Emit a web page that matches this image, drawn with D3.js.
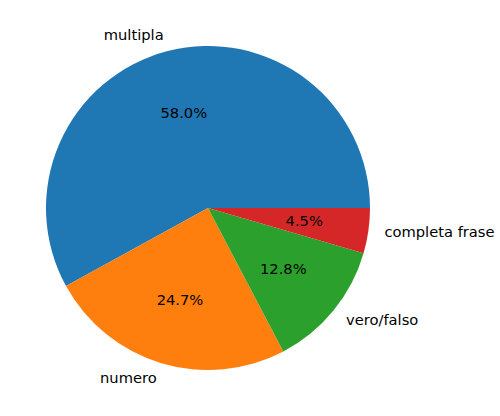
<!DOCTYPE html>
<html>
<head>
<meta charset="utf-8">
<script src="https://cdn.jsdelivr.net/npm/d3@7"></script>
<style>
  body { margin: 0; background: #fff; }
  svg { display: block; }
</style>
</head>
<body>
<div id="chart"></div>
<script>
var labels = ["multipla", "numero", "vero/falso", "completa frase"];
var values = [58.0, 24.7, 12.8, 4.5];
var colors = ["#1f77b4", "#ff7f0e", "#2ca02c", "#d62728"];

const width = 500, height = 416;
const cx = 208, cy = 208, r = 162;

var color = d3.scaleOrdinal().domain(labels).range(colors);

var svg = d3.select("#chart").append("svg")
    .attr("width", width)
    .attr("height", height);

// like matplotlib: start at 3 o'clock, go counterclockwise
var pie = d3.pie()
    .sort(null)
    .startAngle(Math.PI / 2)
    .endAngle(Math.PI / 2 - 2 * Math.PI);

var data = labels.map(function(d, i) { return {name: d, value: values[i]}; });
var arcs = pie.value(function(d) { return d.value; })(data);

var arc = d3.arc().innerRadius(0).outerRadius(r);

var g = svg.append("g").attr("transform", "translate(" + cx + "," + cy + ")");

g.selectAll("path")
    .data(arcs)
    .enter()
    .append("path")
    .attr("d", arc)
    .attr("fill", function(d) { return color(d.data.name); });

function mid(d) { return (d.startAngle + d.endAngle) / 2; }

// outside labels
g.selectAll("text.lbl")
    .data(arcs)
    .enter()
    .append("text")
    .attr("class", "lbl")
    .attr("x", function(d) { return 1.1 * r * Math.sin(mid(d)); })
    .attr("y", function(d) { return -1.1 * r * Math.cos(mid(d)); })
    .attr("dy", "0.28em")
    .attr("text-anchor", function(d) { return Math.sin(mid(d)) > 0 ? "start" : "end"; })
    .style("font-family", "DejaVu Sans, sans-serif")
    .style("font-size", "14.7px")
    .text(function(d) { return d.data.name; });

// percentages inside
var total = d3.sum(values);
g.selectAll("text.pct")
    .data(arcs)
    .enter()
    .append("text")
    .attr("class", "pct")
    .attr("x", function(d) { return 0.6 * r * Math.sin(mid(d)); })
    .attr("y", function(d) { return -0.6 * r * Math.cos(mid(d)); })
    .attr("dy", "0.28em")
    .attr("text-anchor", "middle")
    .style("font-family", "DejaVu Sans, sans-serif")
    .style("font-size", "14.7px")
    .text(function(d) { return (d.data.value / total * 100).toFixed(1) + "%"; });
</script>
</body>
</html>
